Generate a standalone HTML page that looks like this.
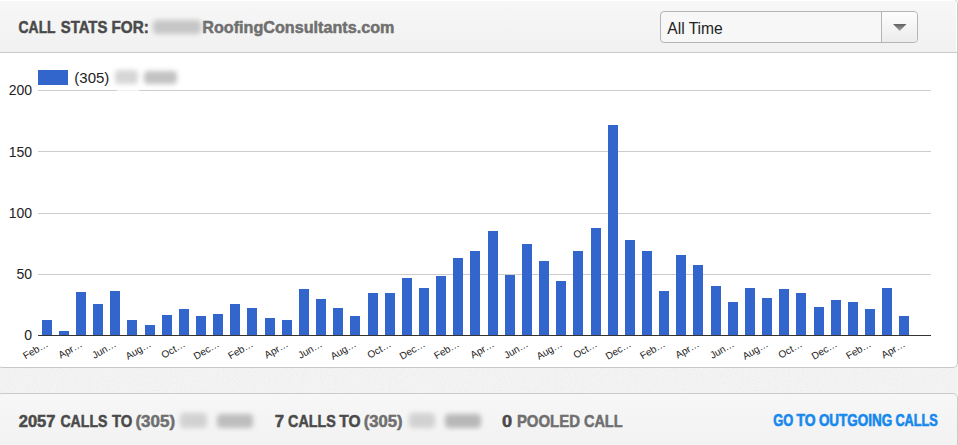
<!DOCTYPE html>
<html><head><meta charset="utf-8"><style>
html,body{margin:0;padding:0;}
body{width:958px;height:445px;overflow:hidden;position:relative;background:#f3f3f3;font-family:"Liberation Sans",sans-serif;}
.panel{position:absolute;left:-3px;top:-1px;width:959px;height:367px;border:1px solid #c8c8c8;border-radius:5px;background:#fff;overflow:hidden;box-sizing:content-box;}
.hdr{position:absolute;left:0;top:0;right:0;height:52px;background:linear-gradient(#f7f7f7,#f1f1f1);border-bottom:1px solid #c9c9c9;box-shadow:inset 0 1px 0 #fff,inset -1px 0 0 #fff;border-radius:4px 4px 0 0;}
.sel{position:absolute;left:662px;top:11px;width:256px;height:30px;border:1px solid #b5b5b5;border-radius:4px;background:#f7f7f7;}
.sel .btn{position:absolute;right:0;top:0;width:35px;height:30px;border-left:1px solid #b5b5b5;background:linear-gradient(#fdfdfd,#ececec);border-radius:0 4px 4px 0;}
.sel .tri{position:absolute;left:11px;top:12px;width:13.5px;height:7px;clip-path:polygon(0 0,100% 0,50% 100%);background:linear-gradient(#5e5e5e,#a8a8a8);}
.p2{position:absolute;left:-3px;top:393px;width:959px;height:80px;border:1px solid #cacaca;border-radius:5px;background:linear-gradient(#f7f7f7,#f2f2f2 50px);}
svg text{font-family:"Liberation Sans",sans-serif;}
.hd,.bd{font-weight:bold;font-size:16.5px;fill:#4a4a4a;stroke:#4a4a4a;stroke-width:0.5px;}
.hl,.bl{font-weight:bold;font-size:16.5px;fill:#6f6f6f;stroke:#6f6f6f;stroke-width:0.5px;}
.selt{font-size:16px;fill:#222;}
.go{font-weight:bold;font-size:16.5px;fill:#1688ee;stroke:#1688ee;stroke-width:0.65px;}

</style></head><body>
<svg width="958" height="445" style="position:absolute;left:0;top:0"><filter id="nz" x="0" y="0" width="100%" height="100%"><feTurbulence type="fractalNoise" baseFrequency="0.85" numOctaves="2" seed="3" result="t"/><feColorMatrix in="t" type="matrix" values="0 0 0 0 0  0 0 0 0 0  0 0 0 0 0  -1.2 0 0 0 0.62"/></filter><rect x="0" y="360" width="958" height="40" fill="#000" filter="url(#nz)" opacity="0.07"/></svg>
<div class="panel">
  <div class="hdr">
    <div class="sel"><div class="btn"><div class="tri"></div></div></div>
  </div>
</div>
<div class="p2"></div>
<svg width="958" height="445" style="position:absolute;left:0;top:0">
  <defs><filter id="b2" x="-50%" y="-50%" width="200%" height="200%"><feGaussianBlur stdDeviation="2.8"/></filter><filter id="b1" x="-50%" y="-50%" width="200%" height="200%"><feGaussianBlur stdDeviation="1.2"/></filter></defs>
  <rect x="38" y="90" width="893" height="1" fill="#cccccc"/><rect x="38" y="151" width="893" height="1" fill="#cccccc"/><rect x="38" y="213" width="893" height="1" fill="#cccccc"/><rect x="38" y="274" width="893" height="1" fill="#cccccc"/>
  <rect x="38" y="70" width="30" height="15" fill="#3366cc"/>
  <text x="74.3" y="83.3" font-size="15" fill="#222">(305)</text>
  <g fill="#3366cc"><rect x="42" y="320" width="10" height="15"/><rect x="59" y="331" width="10" height="4"/><rect x="76" y="292" width="10" height="43"/><rect x="93" y="304" width="10" height="31"/><rect x="110" y="291" width="10" height="44"/><rect x="127" y="320" width="10" height="15"/><rect x="145" y="325" width="10" height="10"/><rect x="162" y="315" width="10" height="20"/><rect x="179" y="309" width="10" height="26"/><rect x="196" y="316" width="10" height="19"/><rect x="213" y="314" width="10" height="21"/><rect x="230" y="304" width="10" height="31"/><rect x="247" y="308" width="10" height="27"/><rect x="265" y="318" width="10" height="17"/><rect x="282" y="320" width="10" height="15"/><rect x="299" y="289" width="10" height="46"/><rect x="316" y="299" width="10" height="36"/><rect x="333" y="308" width="10" height="27"/><rect x="350" y="316" width="10" height="19"/><rect x="368" y="293" width="10" height="42"/><rect x="385" y="293" width="10" height="42"/><rect x="402" y="278" width="10" height="57"/><rect x="419" y="288" width="10" height="47"/><rect x="436" y="276" width="10" height="59"/><rect x="453" y="258" width="10" height="77"/><rect x="470" y="251" width="10" height="84"/><rect x="488" y="231" width="10" height="104"/><rect x="505" y="275" width="10" height="60"/><rect x="522" y="244" width="10" height="91"/><rect x="539" y="261" width="10" height="74"/><rect x="556" y="281" width="10" height="54"/><rect x="573" y="251" width="10" height="84"/><rect x="591" y="228" width="10" height="107"/><rect x="608" y="125" width="10" height="210"/><rect x="625" y="240" width="10" height="95"/><rect x="642" y="251" width="10" height="84"/><rect x="659" y="291" width="10" height="44"/><rect x="676" y="255" width="10" height="80"/><rect x="693" y="265" width="10" height="70"/><rect x="711" y="286" width="10" height="49"/><rect x="728" y="302" width="10" height="33"/><rect x="745" y="288" width="10" height="47"/><rect x="762" y="298" width="10" height="37"/><rect x="779" y="289" width="10" height="46"/><rect x="796" y="293" width="10" height="42"/><rect x="814" y="307" width="10" height="28"/><rect x="831" y="300" width="10" height="35"/><rect x="848" y="302" width="10" height="33"/><rect x="865" y="309" width="10" height="26"/><rect x="882" y="288" width="10" height="47"/><rect x="899" y="316" width="10" height="19"/></g>
  <rect x="38" y="335" width="893" height="1" fill="#333"/>
  <g font-size="14" fill="#222" text-anchor="end"><text x="32" y="95">200</text><text x="32" y="157">150</text><text x="32" y="218">100</text><text x="32" y="279">50</text><text x="32" y="340">0</text></g>
  <g font-size="10" fill="#222" text-anchor="end"><text x="49" y="346" transform="rotate(-30 49 346)">Feb&#8230;</text><text x="83" y="346" transform="rotate(-30 83 346)">Apr&#8230;</text><text x="117" y="346" transform="rotate(-30 117 346)">Jun&#8230;</text><text x="152" y="346" transform="rotate(-30 152 346)">Aug&#8230;</text><text x="186" y="346" transform="rotate(-30 186 346)">Oct&#8230;</text><text x="220" y="346" transform="rotate(-30 220 346)">Dec&#8230;</text><text x="254" y="346" transform="rotate(-30 254 346)">Feb&#8230;</text><text x="289" y="346" transform="rotate(-30 289 346)">Apr&#8230;</text><text x="323" y="346" transform="rotate(-30 323 346)">Jun&#8230;</text><text x="357" y="346" transform="rotate(-30 357 346)">Aug&#8230;</text><text x="392" y="346" transform="rotate(-30 392 346)">Oct&#8230;</text><text x="426" y="346" transform="rotate(-30 426 346)">Dec&#8230;</text><text x="460" y="346" transform="rotate(-30 460 346)">Feb&#8230;</text><text x="495" y="346" transform="rotate(-30 495 346)">Apr&#8230;</text><text x="529" y="346" transform="rotate(-30 529 346)">Jun&#8230;</text><text x="563" y="346" transform="rotate(-30 563 346)">Aug&#8230;</text><text x="598" y="346" transform="rotate(-30 598 346)">Oct&#8230;</text><text x="632" y="346" transform="rotate(-30 632 346)">Dec&#8230;</text><text x="666" y="346" transform="rotate(-30 666 346)">Feb&#8230;</text><text x="700" y="346" transform="rotate(-30 700 346)">Apr&#8230;</text><text x="735" y="346" transform="rotate(-30 735 346)">Jun&#8230;</text><text x="769" y="346" transform="rotate(-30 769 346)">Aug&#8230;</text><text x="803" y="346" transform="rotate(-30 803 346)">Oct&#8230;</text><text x="838" y="346" transform="rotate(-30 838 346)">Dec&#8230;</text><text x="872" y="346" transform="rotate(-30 872 346)">Feb&#8230;</text><text x="906" y="346" transform="rotate(-30 906 346)">Apr&#8230;</text></g>
  <text x="18.58" y="33" textLength="37.02" lengthAdjust="spacingAndGlyphs" class="hd">CALL</text><text x="60.80" y="33" textLength="46.58" lengthAdjust="spacingAndGlyphs" class="hd">STATS</text><text x="111.56" y="33" textLength="37.30" lengthAdjust="spacingAndGlyphs" class="hd">FOR:</text><text x="202.22" y="33" textLength="192.18" lengthAdjust="spacingAndGlyphs" class="hl">RoofingConsultants.com</text><text x="18.75" y="427" textLength="36.75" lengthAdjust="spacingAndGlyphs" class="bd">2057</text><text x="60.46" y="427" textLength="46.92" lengthAdjust="spacingAndGlyphs" class="bd">CALLS</text><text x="111.92" y="427" textLength="20.36" lengthAdjust="spacingAndGlyphs" class="bd">TO</text><text x="135.44" y="427" textLength="39.62" lengthAdjust="spacingAndGlyphs" class="bl">(305)</text><text x="274.68" y="427" textLength="9.38" lengthAdjust="spacingAndGlyphs" class="bd">7</text><text x="288.12" y="427" textLength="47.70" lengthAdjust="spacingAndGlyphs" class="bd">CALLS</text><text x="339.36" y="427" textLength="21.26" lengthAdjust="spacingAndGlyphs" class="bd">TO</text><text x="363.68" y="427" textLength="38.94" lengthAdjust="spacingAndGlyphs" class="bl">(305)</text><text x="502.02" y="427" textLength="10.14" lengthAdjust="spacingAndGlyphs" class="bd">0</text><text x="516.90" y="427" textLength="63.04" lengthAdjust="spacingAndGlyphs" class="bl">POOLED</text><text x="583.90" y="427" textLength="38.72" lengthAdjust="spacingAndGlyphs" class="bl">CALL</text><text x="667.26" y="34" textLength="55.54" lengthAdjust="spacingAndGlyphs" class="selt">All Time</text><text x="773.34" y="426" textLength="20.04" lengthAdjust="spacingAndGlyphs" class="go">GO</text><text x="796.46" y="426" textLength="19.04" lengthAdjust="spacingAndGlyphs" class="go">TO</text><text x="818.90" y="426" textLength="73.28" lengthAdjust="spacingAndGlyphs" class="go">OUTGOING</text><text x="895.44" y="426" textLength="42.28" lengthAdjust="spacingAndGlyphs" class="go">CALLS</text>
  <rect x="153" y="20" width="48" height="14" rx="4" fill="#c6c6c6" filter="url(#b2)"/><rect x="117" y="88" width="22" height="5" fill="#fff" opacity="0.75" filter="url(#b1)"/><rect x="115" y="70" width="23" height="14" rx="4" fill="#d6d6d6" filter="url(#b2)"/><rect x="144" y="71" width="33" height="13" rx="4" fill="#c2c2c2" filter="url(#b2)"/><rect x="180" y="413" width="27" height="15" rx="4" fill="#d2d2d2" filter="url(#b2)"/><rect x="217" y="414" width="36" height="14" rx="4" fill="#bdbdbd" filter="url(#b2)"/><rect x="409" y="413" width="26" height="15" rx="4" fill="#d2d2d2" filter="url(#b2)"/><rect x="445" y="414" width="36" height="14" rx="4" fill="#b8b8b8" filter="url(#b2)"/>
</svg>
</body></html>
